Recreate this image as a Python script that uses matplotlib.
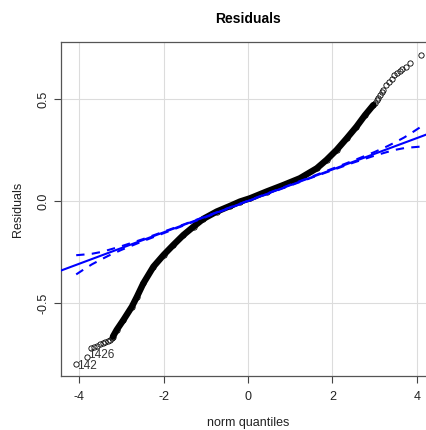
import matplotlib.pyplot as plt

plt.rcParams['font.family'] = ['Liberation Sans', 'DejaVu Sans']
plt.rcParams['axes.unicode_minus'] = False

# sorted residuals vs normal quantiles, dense middle part
band_q = [-3.20, -3.11, -2.95, -2.75, -2.63, -2.48, -2.24, -2.00, -1.77, -1.53,
          -1.29, -1.06, -0.74, -0.43, -0.19, 0.05, 0.44, 0.84, 1.23, 1.63,
          1.86, 2.10, 2.34, 2.57, 2.77, 2.97]
band_r = [-0.665, -0.632, -0.583, -0.518, -0.469, -0.404, -0.322, -0.265, -0.216, -0.167,
          -0.126, -0.088, -0.052, -0.025, -0.003, 0.013, 0.046, 0.078, 0.111, 0.160,
          0.201, 0.250, 0.307, 0.364, 0.420, 0.470]

# sparse tails
low_q = [-4.08, -3.82, -3.72, -3.64, -3.58, -3.50, -3.44, -3.38, -3.32, -3.27, -3.23]
low_r = [-0.800, -0.766, -0.722, -0.714, -0.709, -0.701, -0.694, -0.690, -0.685, -0.681, -0.672]
high_q = [3.00, 3.05, 3.08, 3.12, 3.17, 3.20, 3.28, 3.35, 3.40, 3.46, 3.52, 3.60, 3.66, 3.74, 3.83, 4.11]
high_r = [0.480, 0.495, 0.505, 0.520, 0.535, 0.544, 0.569, 0.585, 0.600, 0.616, 0.626, 0.639, 0.647, 0.658, 0.675, 0.716]

# labelled observations
lab_names = ['142', '1426']
lab_q = [-4.08, -3.82]
lab_r = [-0.800, -0.766]
lab_dy = [-1.5, 1.5]

# reference line and pointwise envelope
line_icpt = 0.0
line_slope = 0.077
env_q = [-4.07, -3.9, -3.7, -3.5, -3.3, -3.0, -2.5, -1.5, 0, 1.5, 2.5, 3.0, 3.3, 3.5, 3.7, 3.9, 4.07]
env_up = [-0.266, -0.263, -0.259, -0.251, -0.240, -0.222, -0.188, -0.1135, 0.0013, 0.1185,
          0.198, 0.240, 0.268, 0.289, 0.311, 0.337, 0.360]
env_lo = [-0.360, -0.337, -0.311, -0.289, -0.268, -0.240, -0.198, -0.1185, -0.0013, 0.1135,
          0.188, 0.222, 0.240, 0.251, 0.259, 0.263, 0.266]

fig = plt.figure(figsize=(4.26, 4.30), dpi=100)
ax = fig.add_axes([61 / 426, 54 / 430, 374 / 426, 334 / 430])

ax.grid(True, color='#dcdcdc', linewidth=0.8)
ax.set_axisbelow(True)

ax.plot(band_q, band_r, color='black', linewidth=4.6, solid_capstyle='round', zorder=2)
ax.plot(low_q + band_q + high_q, low_r + band_r + high_r, linestyle='none', marker='o',
        markersize=3.8, markerfacecolor='none', markeredgecolor='black',
        markeredgewidth=0.6, zorder=2)

ax.axline((0, line_icpt), slope=line_slope, color='#0000ff', linewidth=1.5, zorder=3)
ax.plot(env_q, env_up, color='#0000ff', linewidth=1.5, dashes=(4, 3.5), zorder=3)
ax.plot(env_q, env_lo, color='#0000ff', linewidth=1.5, dashes=(4, 3.5), zorder=3)

for name, q, r, dy in zip(lab_names, lab_q, lab_r, lab_dy):
    ax.annotate(name, (q, r), xytext=(1.2, dy), textcoords='offset points',
                ha='left', va='center', fontsize=8.5, color='#333333')

ax.set_xlim(-4.43, 4.43)
ax.set_ylim(-0.858, 0.779)
ax.set_xticks([-4, -2, 0, 2, 4])
ax.set_xticklabels(['-4', '-2', '0', '2', '4'])
ax.set_yticks([-0.5, 0.0, 0.5])
ax.set_yticklabels(['-0.5', '0.0', '0.5'], rotation=90, va='center')
ax.tick_params(direction='out', length=5, width=0.8, color='#444444',
               labelsize=9, labelcolor='#222222')
ax.tick_params(axis='x', pad=6)
ax.tick_params(axis='y', pad=3)

for s in ax.spines.values():
    s.set_color('#555555')
    s.set_linewidth(0.9)

ax.set_title('Residuals', fontsize=10, fontweight='bold', pad=14)
ax.set_xlabel('norm quantiles', fontsize=9, labelpad=10, color='#222222')
ax.set_ylabel('Residuals', fontsize=9, labelpad=10, color='#222222')

fig.savefig('out.png', dpi=100)
